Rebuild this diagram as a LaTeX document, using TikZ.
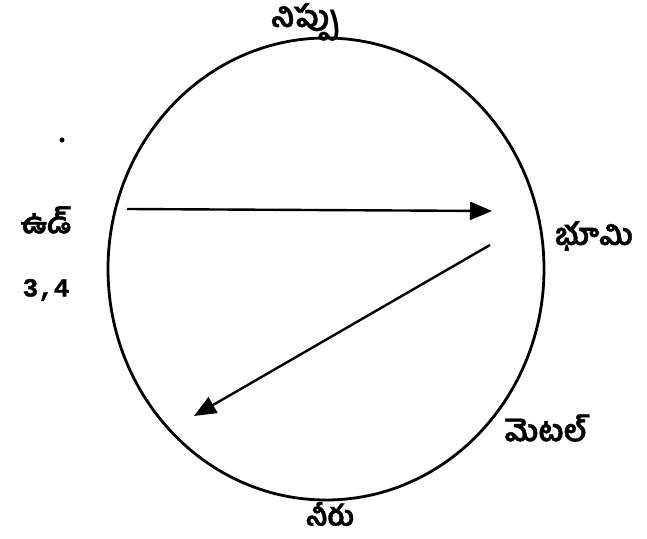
\documentclass[tikz,border=0pt]{standalone}
\usepackage{fontspec}
\newfontfamily\telugu[Script=Telugu, FakeBold=1.3]{Hind Guntur}
\setmonofont[FakeBold=1.5]{Liberation Mono}
\usetikzlibrary{arrows.meta,shapes.geometric}
\tikzset{
  element/.style={font=\telugu\bfseries\fontsize{15}{17}\selectfont, inner sep=1pt},
  cycle/.style={draw, line width=1.4pt},
  flow/.style={-{Triangle[length=11pt, width=9pt]}, line width=1.2pt}
}

\begin{document}
\begin{tikzpicture}[x=0.5pt, y=-0.5pt]
\useasboundingbox (0,0) rectangle (647,539);

% circle
\node[cycle, ellipse, minimum width=218pt, minimum height=231pt, inner sep=0pt] (wheel) at (326,269) {};

% nodes
\node[element] (fire)  at (305,22)  {నిప్పు};
\node[element] (wood)  at (46,220)  {ఉడ్};
\node[font=\ttfamily\bfseries\fontsize{13}{15}\selectfont] (num) at (46,290) {3,4};
\node[circle, fill, inner sep=0pt, minimum size=2.5pt] (dot) at (62,140) {};
\node[element] (earth) at (594,236) {భూమి};
\node[element] (metal) at (546,428) {మెటల్};
\node[element, font=\telugu\bfseries\fontsize{14}{16}\selectfont] (water) at (330,514) {నీరు};

% arrows
\coordinate (a1) at (127,209);
\coordinate (b1) at (492,211);
\coordinate (a2) at (490,245);
\coordinate (b2) at (194,416);
\draw[flow] (a1) -- (b1);
\draw[flow] (a2) -- (b2);

\end{tikzpicture}
\end{document}
